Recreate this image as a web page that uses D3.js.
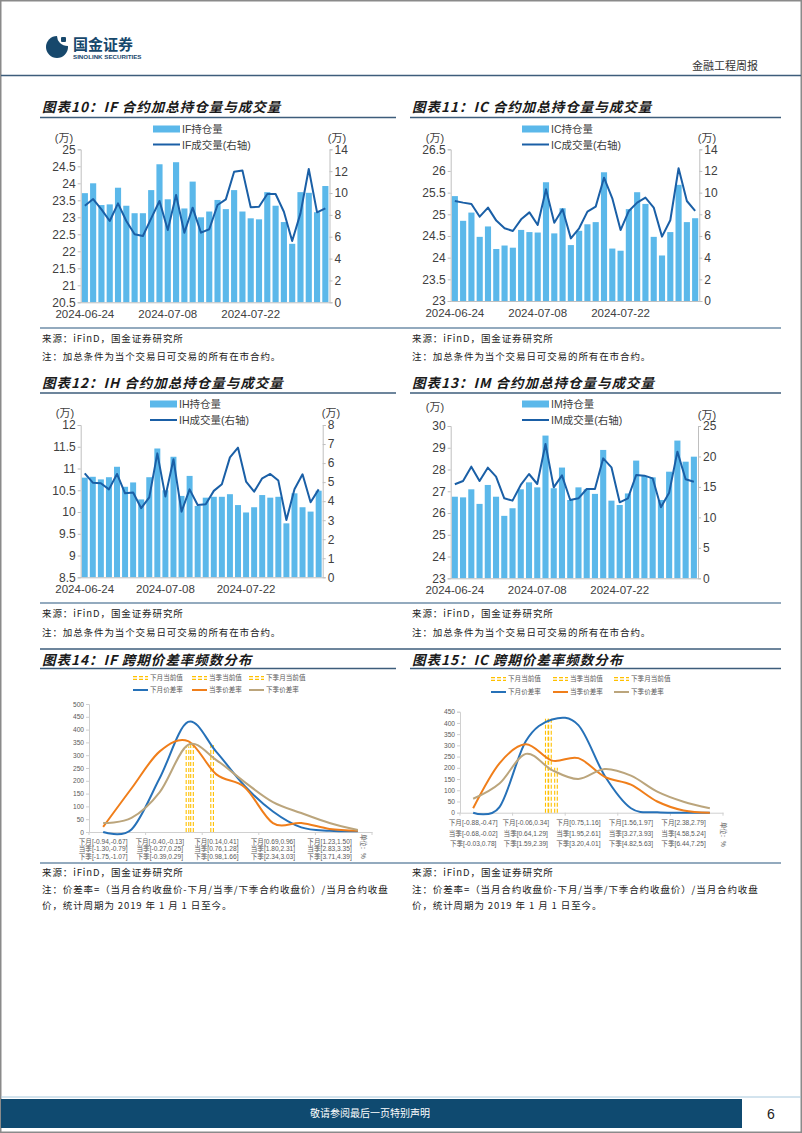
<!DOCTYPE html>
<html><head><meta charset="utf-8">
<script src="https://cdn.jsdelivr.net/npm/d3@7"></script>
<style>body{margin:0;background:#fff}svg{display:block}</style>
</head><body>
<svg id="page" width="802" height="1133"></svg>
<script>
// ---------------- data ----------------
const dates = ["2024-06-24","2024-06-25","2024-06-26","2024-06-27","2024-06-28",
  "2024-07-01","2024-07-02","2024-07-03","2024-07-04","2024-07-05",
  "2024-07-08","2024-07-09","2024-07-10","2024-07-11","2024-07-12",
  "2024-07-15","2024-07-16","2024-07-17","2024-07-18","2024-07-19",
  "2024-07-22","2024-07-23","2024-07-24","2024-07-25","2024-07-26",
  "2024-07-29","2024-07-30","2024-07-31","2024-08-01","2024-08-02"];
const dateTicks = ["2024-06-24","2024-07-08","2024-07-22"];

const ifOI  = [23.71,24.00,23.36,23.38,23.87,23.34,23.12,23.12,23.80,24.56,23.53,24.62,23.26,24.05,23.00,23.17,23.51,23.24,23.80,23.17,22.97,22.94,23.74,23.34,22.86,22.22,23.74,23.72,23.15,23.92];
const ifVol = [8.84,9.45,8.50,7.44,9.05,7.44,6.22,6.07,7.68,9.27,6.62,9.82,6.37,8.66,6.37,6.68,8.90,9.42,11.95,12.07,8.69,8.75,9.91,9.91,8.29,5.61,8.14,12.20,8.23,8.60];
const icOI  = [25.42,24.85,25.04,24.48,24.72,24.20,24.28,24.23,24.64,24.59,24.58,25.74,24.56,25.14,24.29,24.62,24.77,24.82,25.97,24.21,24.16,25.12,25.51,25.24,24.48,24.05,24.59,25.68,24.82,24.91];
const icVol = [9.23,9.08,8.95,7.78,8.62,7.42,6.71,6.46,7.54,8.18,7.02,10.31,7.23,8.46,5.78,6.71,8.25,8.71,11.38,9.48,6.55,8.31,9.08,9.54,8.62,5.94,7.45,12.25,9.23,8.31];
const ihOI  = [10.79,10.81,10.75,10.80,11.04,10.58,10.68,10.29,10.80,11.46,10.50,11.27,10.37,10.83,10.14,10.33,10.35,10.35,10.41,10.16,9.99,10.11,10.39,10.33,10.35,9.74,10.43,10.11,10.01,10.49];
const ihVol = [5.46,4.97,4.94,4.62,5.43,4.41,4.45,3.63,4.20,6.51,4.24,6.20,3.45,4.62,3.80,3.84,4.54,4.89,6.30,6.81,5.03,4.50,5.20,5.43,5.08,3.01,4.62,5.41,3.94,4.62];
const imOI  = [26.75,26.72,27.09,26.42,27.29,26.75,25.87,26.22,27.09,27.41,27.18,29.56,27.14,28.09,26.60,27.18,27.09,26.88,28.90,26.57,26.37,26.90,28.41,27.70,27.64,26.60,27.90,29.33,28.36,28.59];
const imVol = [15.43,15.97,18.33,15.97,18.16,16.68,13.13,12.75,15.32,17.12,15.48,22.05,14.93,16.90,12.86,13.13,14.66,14.66,19.69,18.22,12.47,13.13,16.96,16.85,16.41,11.65,14.06,20.79,16.25,15.86];

// spread-rate frequency distributions (10 bins each)
const ifNext = [0,10,211,430,313,180,80,18,5,3];
const ifQ    = [20,170,315,355,225,175,35,35,12,5];
const ifNQ   = [35,55,156,340,281,195,117,74,35,8];
const ifCurPos = [2.98,3.14,3.85];
const ifCurH   = [335,350,340];
const ifLab1 = ["下月[-0.94,-0.67]","下月[-0.40,-0.13]","下月[0.14,0.41]","下月[0.69,0.96]","下月[1.23,1.50]"];
const ifLab2 = ["当季[-1.30,-0.79]","当季[-0.27,0.25]","当季[0.76,1.28]","当季[1.80,2.31]","当季[2.83,3.35]"];
const ifLab3 = ["下季[-1.75,-1.07]","下季[-0.39,0.29]","下季[0.98,1.66]","下季[2.34,3.03]","下季[3.71,4.39]"];

const icNext = [0,25,318,415,390,165,20,2,0,0];
const icQ    = [20,220,305,232,243,160,125,50,10,0];
const icNQ   = [62,130,262,190,150,195,165,94,49,20];
const icCurPos = [2.80,2.92,3.15];
const icCurH   = [425,425,200];
const icLab1 = ["下月[-0.88,-0.47]","下月[-0.06,0.34]","下月[0.75,1.16]","下月[1.56,1.97]","下月[2.38,2.79]"];
const icLab2 = ["当季[-0.68,-0.02]","当季[0.64,1.29]","当季[1.95,2.61]","当季[3.27,3.93]","当季[4.58,5.24]"];
const icLab3 = ["下季[-0.03,0.78]","下季[1.59,2.39]","下季[3.20,4.01]","下季[4.82,5.63]","下季[6.44,7.25]"];

// ---------------- style ----------------
const SANS = "'Liberation Sans', Arial, 'Noto Sans CJK SC', sans-serif";
const CJK = "'Noto Sans CJK SC', 'Liberation Sans', sans-serif";
const BAR = "#5bb8ea", LINE = "#1a5fa6";
const C_BLUE = "#2671b8", C_ORANGE = "#f07e1a", C_TAN = "#bba57c", C_YEL = "#ffc000";
const NAVY = "#17486c";

const svg = d3.select("#page");

// page frame
svg.append("rect").attr("x",0.75).attr("y",0.75).attr("width",800.5).attr("height",1131.5)
  .attr("fill","none").attr("stroke","#8a8a8a").attr("stroke-width",1.5);

// header
const logo = svg.append("g");
logo.append("circle").attr("cx",57).attr("cy",47).attr("r",11).attr("fill",NAVY);
logo.append("path").attr("d","M57,36 L68,36 L68,46 Q63,46 60,43 Q57,40 57,36 Z").attr("fill","#fff");
logo.append("rect").attr("x",61).attr("y",37).attr("width",5).attr("height",5).attr("rx",1).attr("fill",NAVY);
svg.append("text").attr("x",73).attr("y",50).text("国金证券")
  .attr("font-family",CJK).attr("font-weight",700).attr("font-size",15).attr("fill",NAVY);
svg.append("text").attr("x",73).attr("y",58.5).text("SINOLINK SECURITIES")
  .attr("font-family",SANS).attr("font-weight",700).attr("font-size",6.2).attr("fill",NAVY);
svg.append("text").attr("x",758).attr("y",70).attr("text-anchor","end").text("金融工程周报")
  .attr("font-family",CJK).attr("font-size",11).attr("fill","#333");
svg.append("line").attr("x1",1).attr("x2",801).attr("y1",75.5).attr("y2",75.5)
  .attr("stroke","#3d5d7b").attr("stroke-width",1.5);

// footer
svg.append("line").attr("x1",1).attr("x2",801).attr("y1",1097).attr("y2",1097).attr("stroke","#a7c8dd").attr("stroke-width",1);
svg.append("rect").attr("x",1).attr("y",1099).attr("width",741).attr("height",29).attr("fill","#0f4a70");
svg.append("text").attr("x",370).attr("y",1117).attr("text-anchor","middle").text("敬请参阅最后一页特别声明")
  .attr("font-family",CJK).attr("font-size",10).attr("fill","#fff");
svg.append("text").attr("x",771).attr("y",1119).attr("text-anchor","middle").text("6")
  .attr("font-family",SANS).attr("font-size",14).attr("fill","#222");

// section titles & rules
function title(x, y, s) {
  svg.append("text").attr("x",x).attr("y",y).text(s)
    .attr("font-family",CJK).attr("font-weight",700).attr("font-style","italic")
    .attr("font-size",13.5).attr("letter-spacing",1.0).attr("fill","#1a1a1a");
}
function rule(x1, x2, y, w, col) {
  svg.append("line").attr("x1",x1).attr("x2",x2).attr("y1",y).attr("y2",y)
    .attr("stroke",col||"#3d5d7b").attr("stroke-width",w||1.5);
}
function note(x, y, s) {
  svg.append("text").attr("x",x).attr("y",y).text(s)
    .attr("font-family",CJK).attr("font-size",9.5).attr("letter-spacing",0.9).attr("fill","#222");
}

title(42,112,"图表10：IF 合约加总持仓量与成交量");
title(412,112,"图表11：IC 合约加总持仓量与成交量");
rule(40,396,117.5); rule(410,781,117.5);
title(42,388,"图表12：IH 合约加总持仓量与成交量");
title(412,388,"图表13：IM 合约加总持仓量与成交量");
rule(40,396,393); rule(410,781,393);
rule(40,781,649);
title(42,665,"图表14：IF 跨期价差率频数分布");
title(412,665,"图表15：IC 跨期价差率频数分布");
rule(40,396,668.5); rule(410,781,668.5);

rule(40,781,328,1.5,"#6f8ea8");
note(42,342,"来源：iFinD，国金证券研究所"); note(412,342,"来源：iFinD，国金证券研究所");
note(42,360,"注：加总条件为当个交易日可交易的所有在市合约。"); note(412,360,"注：加总条件为当个交易日可交易的所有在市合约。");
rule(40,781,603,1.5,"#6f8ea8");
note(42,617,"来源：iFinD，国金证券研究所"); note(412,617,"来源：iFinD，国金证券研究所");
note(42,636,"注：加总条件为当个交易日可交易的所有在市合约。"); note(412,636,"注：加总条件为当个交易日可交易的所有在市合约。");
rule(40,781,863,1.5,"#6f8ea8");
note(42,876,"来源：iFinD，国金证券研究所"); note(412,876,"来源：iFinD，国金证券研究所");
note(42,893,"注：价差率=（当月合约收盘价-下月/当季/下季合约收盘价）/当月合约收盘");
note(412,893,"注：价差率=（当月合约收盘价-下月/当季/下季合约收盘价）/当月合约收盘");
note(42,909,"价，统计周期为 2019 年 1 月 1 日至今。"); note(412,909,"价，统计周期为 2019 年 1 月 1 日至今。");

// ---------------- combo charts ----------------
function combo(c) {
  const g = svg.append("g");
  const x = d3.scaleBand().domain(dates).range([c.xl, c.xr]).paddingInner(0.26).paddingOuter(0.13);
  const yl = d3.scaleLinear().domain(c.ld).range([c.yb, c.yt]);
  const yr = d3.scaleLinear().domain(c.rd).range([c.yb, c.yt]);
  const fmt = d => String(+d.toFixed(2));
  g.selectAll("rect").data(c.oi).join("rect")
    .attr("x",(d,i)=>x(dates[i])).attr("width",x.bandwidth())
    .attr("y",d=>yl(d)).attr("height",d=>c.yb-yl(d)).attr("fill",BAR);
  const ln = d3.line().x((d,i)=>x(dates[i])+x.bandwidth()/2).y(d=>yr(d));
  g.append("path").datum(c.vol).attr("d",ln).attr("fill","none")
    .attr("stroke",LINE).attr("stroke-width",2).attr("stroke-linejoin","round");
  const lt = d3.range(c.ld[0], c.ld[1]+1e-9, c.ls);
  const rt = d3.range(c.rd[0], c.rd[1]+1e-9, c.rs);
  const aL = g.append("g").attr("transform",`translate(${c.xl},0)`)
    .call(d3.axisLeft(yl).tickValues(lt).tickSize(3).tickPadding(2).tickFormat(fmt));
  const aR = g.append("g").attr("transform",`translate(${c.xr},0)`)
    .call(d3.axisRight(yr).tickValues(rt).tickSize(3).tickPadding(2).tickFormat(fmt));
  const aB = g.append("g").attr("transform",`translate(0,${c.yb})`)
    .call(d3.axisBottom(x).tickValues(dateTicks).tickSize(0).tickPadding(8));
  [aL,aR,aB].forEach(a=>{
    a.select(".domain").attr("stroke","#bfbfbf");
    a.selectAll(".tick line").attr("stroke","#bfbfbf");
    a.selectAll("text").attr("font-family",SANS).attr("font-size",12).attr("fill","#404040");
  });
  aB.selectAll("text").attr("font-size",11.5);
  // units
  g.append("text").attr("x",c.uL[0]).attr("y",c.uL[1]).attr("text-anchor","middle").text("(万)")
    .attr("font-family",SANS).attr("font-size",11).attr("fill","#404040");
  g.append("text").attr("x",c.uR[0]).attr("y",c.uR[1]).attr("text-anchor","middle").text("(万)")
    .attr("font-family",SANS).attr("font-size",11).attr("fill","#404040");
  // legend
  g.append("rect").attr("x",c.lg[0]).attr("y",c.lg[1]-3.5).attr("width",27).attr("height",7).attr("fill",BAR);
  g.append("text").attr("x",c.lg[0]+29).attr("y",c.lg[1]+4).text(c.names[0])
    .attr("font-family",SANS).attr("font-size",10.5).attr("fill","#404040");
  g.append("line").attr("x1",c.lg[0]).attr("x2",c.lg[0]+27).attr("y1",c.lg[2]).attr("y2",c.lg[2])
    .attr("stroke",LINE).attr("stroke-width",2);
  g.append("text").attr("x",c.lg[0]+29).attr("y",c.lg[2]+4).text(c.names[1])
    .attr("font-family",SANS).attr("font-size",10.5).attr("fill","#404040");
}

combo({xl:80.7,xr:329.5,yt:149.3,yb:302.3,ld:[20.5,25],ls:0.5,rd:[0,14],rs:2,oi:ifOI,vol:ifVol,
  uL:[64,142],uR:[337,142],lg:[153,129,144.5],names:["IF持仓量","IF成交量(右轴)"]});
combo({xl:450.7,xr:699.3,yt:149.3,yb:301,ld:[23,26.5],ls:0.5,rd:[0,14],rs:2,oi:icOI,vol:icVol,
  uL:[435,142],uR:[707,142],lg:[522,129,144.5],names:["IC持仓量","IC成交量(右轴)"]});
combo({xl:80.7,xr:322.7,yt:425,yb:577.3,ld:[8.5,12],ls:0.5,rd:[0,8],rs:1,oi:ihOI,vol:ihVol,
  uL:[65,417],uR:[331,417],lg:[150,404,420],names:["IH持仓量","IH成交量(右轴)"]});
combo({xl:450.7,xr:698,yt:426,yb:578.3,ld:[23,30],ls:1,rd:[0,25],rs:5,oi:imOI,vol:imVol,
  uL:[435,411],uR:[707,419],lg:[522,404,420],names:["IM持仓量","IM成交量(右轴)"]});

// ---------------- distribution charts ----------------
function dist(c) {
  const g = svg.append("g");
  const bins = d3.range(c.s1.length);
  const xb = d3.scaleBand().domain(bins).range([c.x0, c.x1]);
  const xc = i => xb(0) + xb.step()*(i+0.5);
  const y = d3.scaleLinear().domain([0,c.ymax]).range([c.yb,c.yt]);
  const aL = g.append("g").attr("transform",`translate(${c.x0},0)`)
    .call(d3.axisLeft(y).tickValues(d3.range(0,c.ymax+1,50)).tickSize(3).tickPadding(2));
  aL.select(".domain").attr("stroke","#d0d0d0");
  aL.selectAll(".tick line").attr("stroke","#d0d0d0");
  aL.selectAll("text").attr("font-family",SANS).attr("font-size",6.6).attr("fill","#595959");
  const aB = g.append("g").attr("transform",`translate(0,${c.yb})`)
    .call(d3.axisBottom(xb).tickValues([]).tickSizeOuter(0));
  aB.select(".domain").attr("stroke","#d0d0d0");
  g.selectAll("line.tk").data(d3.range(0,c.s1.length+1,2)).join("line").attr("class","tk")
    .attr("x1",i=>xb(0)+xb.step()*i).attr("x2",i=>xb(0)+xb.step()*i)
    .attr("y1",c.yb).attr("y2",c.yb+3).attr("stroke","#d0d0d0");
  // current value lines (double dashed)
  c.cur.forEach((p,k)=>{
    const xx = xc(p);
    [-1.3,1.3].forEach(o=>{
      g.append("line").attr("x1",xx+o).attr("x2",xx+o).attr("y1",c.yb).attr("y2",y(c.curH[k]))
        .attr("stroke",C_YEL).attr("stroke-width",1.1).attr("stroke-dasharray","4,2");
    });
  });
  const ln = d3.line().x((d,i)=>xc(i)).y(d=>y(d)).curve(d3.curveCardinal.tension(0));
  [[c.s1,C_BLUE],[c.s2,C_ORANGE],[c.s3,C_TAN]].forEach(([s,col])=>{
    g.append("path").datum(s).attr("d",ln).attr("fill","none").attr("stroke",col).attr("stroke-width",2);
  });
  // category labels
  [c.l1,c.l2,c.l3].forEach((arr,r)=>{
    arr.forEach((t,k)=>{
      g.append("text").attr("x",xc(k*2)).attr("y",c.yb+c.ly[r]).attr("text-anchor","middle").text(t)
        .attr("font-family",SANS).attr("font-size",6.6).attr("fill","#595959");
    });
  });
  g.append("text").attr("transform",`translate(${c.unit[0]},${c.unit[1]}) rotate(90)`).text("单位：%")
    .attr("font-family",SANS).attr("font-size",6.3).attr("fill","#595959");
  // legend
  const lt = ["下月当前值","当季当前值","下季月当前值"];
  const lc = ["下月价差率","当季价差率","下季价差率"];
  const cols = [C_BLUE,C_ORANGE,C_TAN];
  lt.forEach((t,k)=>{
    const sx = c.lgx[k], sy = c.lgy[0];
    [-1.4,1.4].forEach(o=>{
      g.append("line").attr("x1",sx).attr("x2",sx+15).attr("y1",sy+o).attr("y2",sy+o)
        .attr("stroke",C_YEL).attr("stroke-width",1.1).attr("stroke-dasharray","4,2");
    });
    g.append("text").attr("x",sx+17).attr("y",sy+2.4).text(t)
      .attr("font-family",SANS).attr("font-size",6.6).attr("fill","#595959");
    g.append("line").attr("x1",sx).attr("x2",sx+15).attr("y1",c.lgy[1]).attr("y2",c.lgy[1])
      .attr("stroke",cols[k]).attr("stroke-width",2);
    g.append("text").attr("x",sx+17).attr("y",c.lgy[1]+2.4).text(lc[k])
      .attr("font-family",SANS).attr("font-size",6.6).attr("fill","#595959");
  });
}

dist({x0:89,x1:372,yb:832,yt:704,ymax:500,s1:ifNext,s2:ifQ,s3:ifNQ,cur:ifCurPos,curH:ifCurH,
  l1:ifLab1,l2:ifLab2,l3:ifLab3,ly:[11.5,19,27],unit:[361,834],lgx:[133,192,249],lgy:[678,690]});
dist({x0:460,x1:723,yb:812.7,yt:711.7,ymax:450,s1:icNext,s2:icQ,s3:icNQ,cur:icCurPos,curH:icCurH,
  l1:icLab1,l2:icLab2,l3:icLab3,ly:[12.5,23,33.5],unit:[721,822],lgx:[491,553,614],lgy:[679,692]});
</script>
</body></html>
